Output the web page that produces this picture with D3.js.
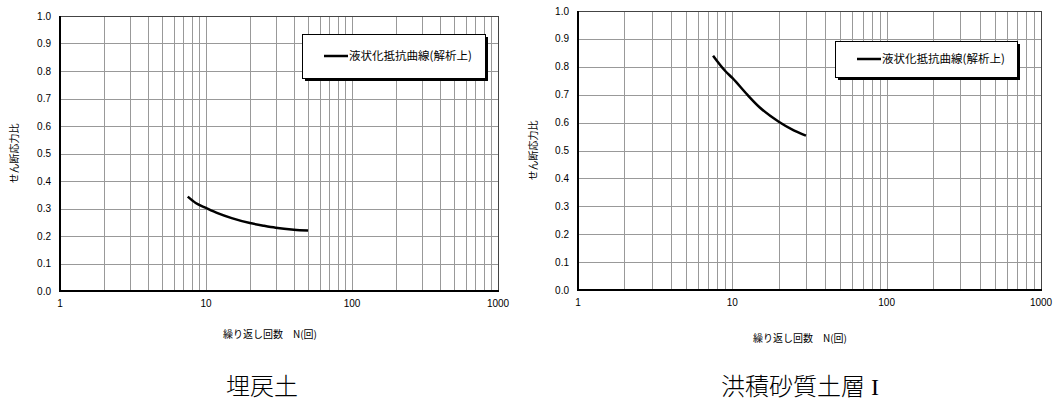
<!DOCTYPE html>
<html><head><meta charset="utf-8">
<script src="https://cdn.jsdelivr.net/npm/d3@7"></script>
<style>
html,body{margin:0;padding:0;background:#fff;}
svg{display:block;}
</style></head>
<body>
<svg id="chart" width="1061" height="406"></svg>
<script>
// ---- data ----
const xTicks = [1, 10, 100, 1000];
const yTicks = [0, 0.1, 0.2, 0.3, 0.4, 0.5, 0.6, 0.7, 0.8, 0.9, 1.0];
const yTitle = "せん断応力比";
const xTitle = "繰り返し回数　N(回)";
const legendLabel = "液状化抵抗曲線(解析上)";
const leftCaption = "埋戻土";
const rightCaption = "洪積砂質土層 I";
const leftN = [7.5, 8.5, 10, 12, 15, 20, 25, 30, 40, 50];
const leftR = [0.343, 0.320, 0.302, 0.283, 0.265, 0.247, 0.237, 0.230, 0.223, 0.220];
const rightN = [7.5, 9, 10, 12.5, 15, 20, 25, 30];
const rightR = [0.840, 0.785, 0.760, 0.700, 0.655, 0.603, 0.572, 0.553];

const svg = d3.select("#chart");
const font = "'Liberation Sans', Arial, 'Noto Sans CJK JP', sans-serif";
const jfont = "'Noto Sans CJK JP', sans-serif";
const capFont = "'Liberation Serif', 'Noto Sans CJK JP', serif";

function drawChart(o) {
  const g = svg.append("g");
  const x = d3.scaleLog().domain([1, 1000]).range([o.x0, o.x1]);
  const y = d3.scaleLinear().domain([0, 1]).range([o.y1, o.y0]);

  // minor vertical grid
  const minors = [];
  [1, 10, 100].forEach(d => { for (let k = 1; k <= 9; k++) { if (d * k > 1 && d * k < 1000) minors.push(d * k); } });
  g.append("g").selectAll("line").data(minors).join("line")
    .attr("x1", d => Math.round(x(d)) + 0.5).attr("x2", d => Math.round(x(d)) + 0.5)
    .attr("y1", o.y0).attr("y2", o.y1)
    .attr("stroke", "#999").attr("stroke-width", 1);
  // horizontal grid
  g.append("g").selectAll("line").data(yTicks.slice(1, -1)).join("line")
    .attr("x1", o.x0).attr("x2", o.x1)
    .attr("y1", d => Math.round(y(d)) + 0.5).attr("y2", d => Math.round(y(d)) + 0.5)
    .attr("stroke", "#999").attr("stroke-width", 1);

  // frame: top/right thin, left/bottom thick
  g.append("line").attr("x1", o.x0).attr("x2", o.x1).attr("y1", o.y0 + 0.5).attr("y2", o.y0 + 0.5).attr("stroke", "#444").attr("stroke-width", 1);
  g.append("line").attr("x1", o.x1 + 0.5).attr("x2", o.x1 + 0.5).attr("y1", o.y0).attr("y2", o.y1).attr("stroke", "#444").attr("stroke-width", 1);
  g.append("line").attr("x1", o.x0).attr("x2", o.x0).attr("y1", o.y0).attr("y2", o.y1 + 1).attr("stroke", "#000").attr("stroke-width", 2);
  g.append("line").attr("x1", o.x0 - 1).attr("x2", o.x1 + 1).attr("y1", o.y1).attr("y2", o.y1).attr("stroke", "#000").attr("stroke-width", 2);

  // y tick labels
  g.append("g").selectAll("text").data(yTicks).join("text")
    .attr("x", o.x0 - 9).attr("y", d => y(d)).attr("dy", "0.35em")
    .attr("text-anchor", "end").attr("font-family", font).attr("font-size", 10).attr("fill", "#000")
    .text(d => d.toFixed(1));
  // x tick labels
  g.append("g").selectAll("text").data(xTicks).join("text")
    .attr("x", d => x(d)).attr("y", o.y1 + 16)
    .attr("text-anchor", "middle").attr("font-family", font).attr("font-size", 10).attr("fill", "#000")
    .text(d => d);

  // axis titles
  g.append("text").attr("transform", `translate(${o.yTitleX},${(o.y0 + o.y1) / 2}) rotate(-90)`)
    .attr("text-anchor", "middle").attr("dy", "0.35em").attr("font-family", jfont).attr("font-size", 10).attr("fill", "#000")
    .text(yTitle);
  g.append("text").attr("x", o.xTitleX).attr("y", o.xTitleY).attr("text-anchor", "middle")
    .attr("font-family", jfont).attr("font-size", 10).attr("fill", "#000").text(xTitle);

  // curve
  const pts = o.n.map((n, i) => [n, o.r[i]]);
  g.append("path").datum(pts)
    .attr("d", d3.line().x(d => x(d[0])).y(d => y(d[1])).curve(d3.curveMonotoneX))
    .attr("fill", "none").attr("stroke", "#000").attr("stroke-width", 2.5).attr("stroke-linecap", "butt");

  // legend
  const L = o.legend;
  g.append("rect").attr("x", L.x + 3).attr("y", L.y + 3).attr("width", L.w).attr("height", L.h).attr("fill", "#000");
  g.append("rect").attr("x", L.x + 0.5).attr("y", L.y + 0.5).attr("width", L.w).attr("height", L.h)
    .attr("fill", "#fff").attr("stroke", "#000").attr("stroke-width", 1);
  g.append("line").attr("x1", L.x + 22).attr("x2", L.x + 46).attr("y1", L.y + L.h / 2).attr("y2", L.y + L.h / 2)
    .attr("stroke", "#000").attr("stroke-width", 2.5);
  g.append("text").attr("x", L.x + 47).attr("y", L.y + L.h / 2).attr("dy", "0.35em")
    .attr("font-family", jfont).attr("font-size", 11.5).attr("fill", "#000").text(legendLabel);

  // caption
  svg.append("text").attr("x", o.capX).attr("y", o.capY).attr("text-anchor", "middle")
    .attr("font-family", capFont).attr("font-size", 24).attr("font-weight", 300).attr("fill", "#000").text(o.caption);
}

drawChart({
  x0: 60, x1: 498, y0: 16, y1: 291,
  n: leftN, r: leftR,
  yTitleX: 14, xTitleX: 270, xTitleY: 338,
  legend: { x: 302, y: 34, w: 183, h: 44 },
  caption: leftCaption, capX: 262, capY: 395
});
drawChart({
  x0: 578, x1: 1041, y0: 11, y1: 290,
  n: rightN, r: rightR,
  yTitleX: 533, xTitleX: 800, xTitleY: 342,
  legend: { x: 835, y: 41, w: 182, h: 36 },
  caption: rightCaption, capX: 800, capY: 395
});
</script>
</body></html>
